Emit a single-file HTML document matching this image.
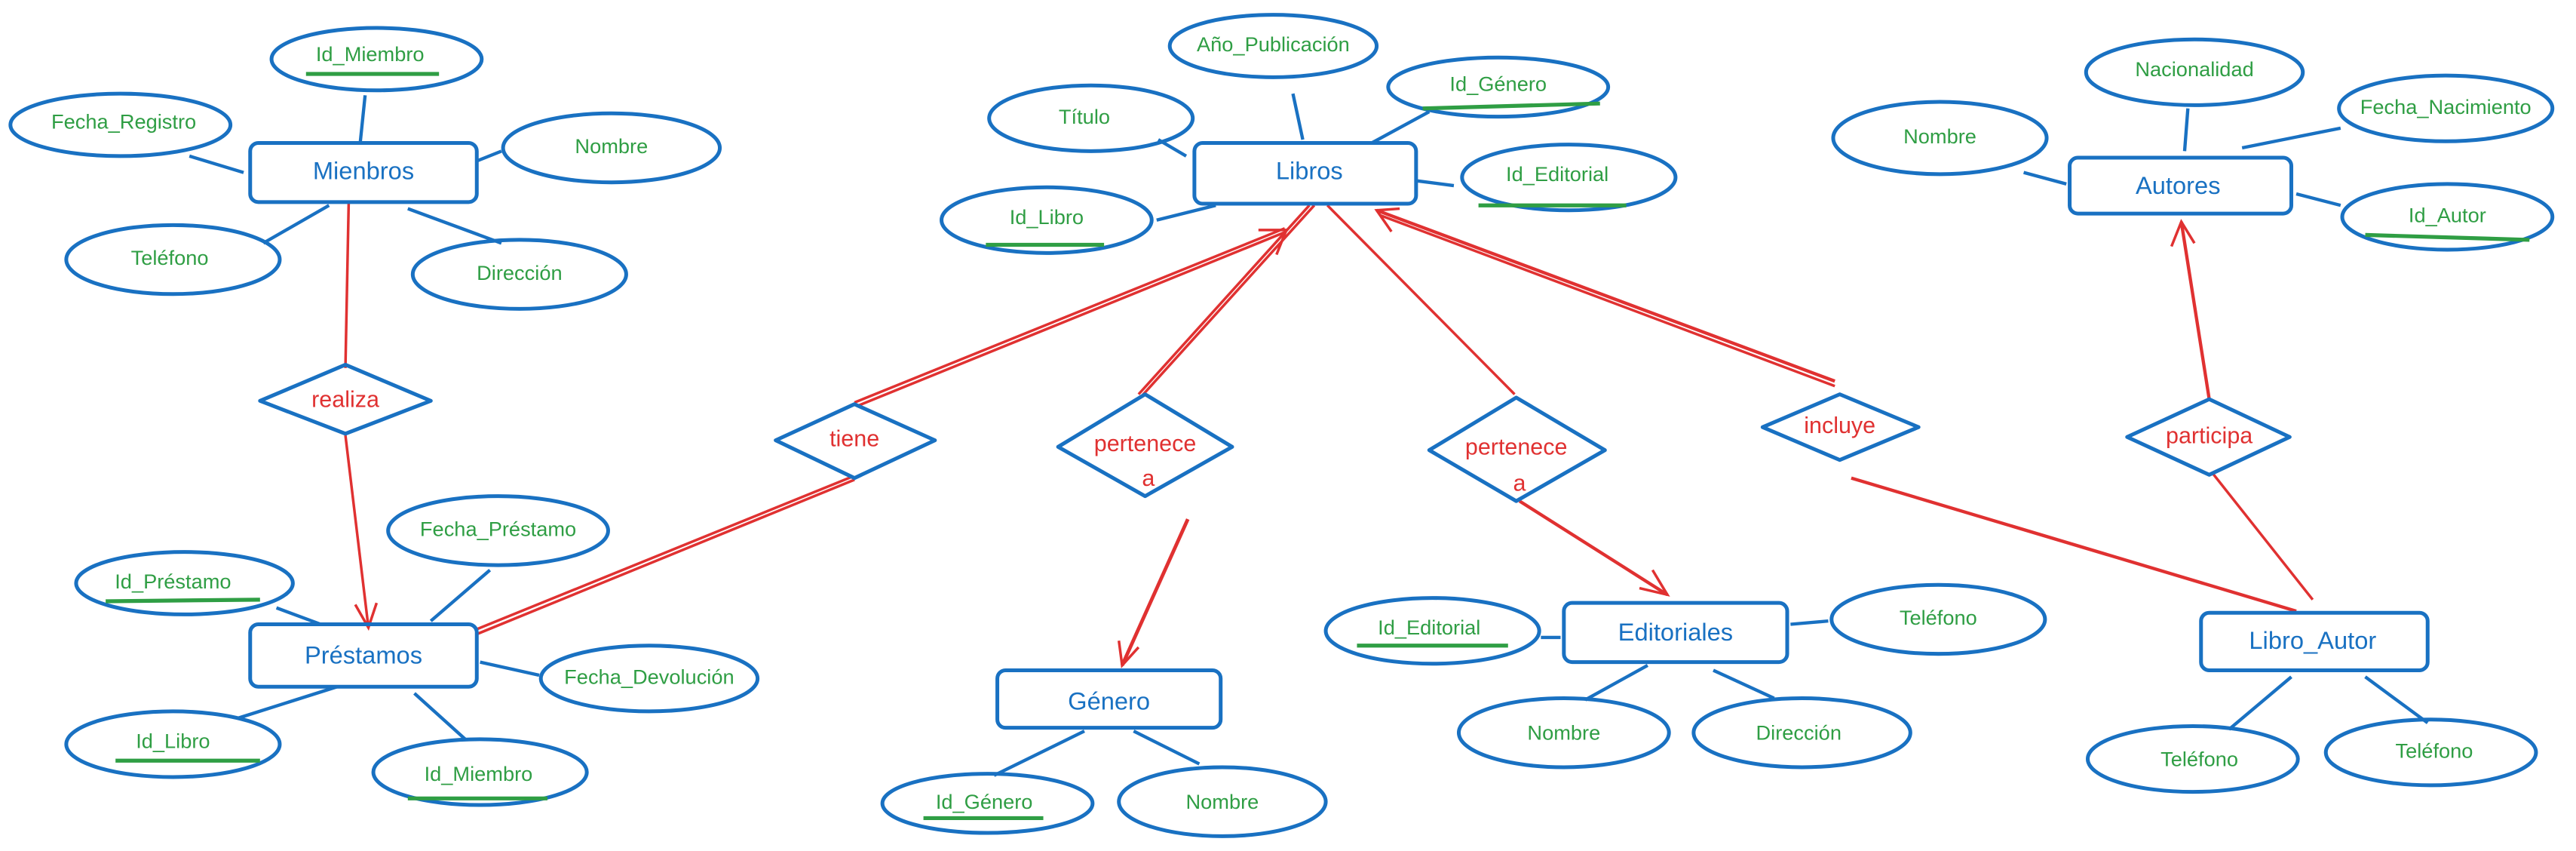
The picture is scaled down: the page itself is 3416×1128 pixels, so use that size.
<!DOCTYPE html>
<html><head><meta charset="utf-8"><style>
html,body{margin:0;padding:0;background:#fff;}
svg{display:block;}
text{font-family:"Liberation Sans",sans-serif;}
.e{fill:none;stroke:#1971c2;stroke-width:2.3;}
.l{stroke:#1971c2;stroke-width:2;fill:none;}
.r{stroke:#e03131;stroke-width:1.6;fill:none;}
.u{stroke:#2f9e44;stroke-width:2.4;}
.at{fill:#2f9e44;font-size:12.5px;text-anchor:middle;dominant-baseline:middle;}
.en{fill:#1971c2;font-size:15px;text-anchor:middle;dominant-baseline:middle;}
.rt{fill:#e03131;font-size:14px;text-anchor:middle;dominant-baseline:middle;}
</style></head><body>
<svg width="3416" height="1128" viewBox="0 0 1568 518" xmlns="http://www.w3.org/2000/svg">
<!-- connectors blue -->
<g class="l">
<line x1="222" y1="58" x2="219" y2="87"/><line x1="115" y1="95" x2="148" y2="105"/><line x1="290" y1="98" x2="305" y2="92"/>
<line x1="200" y1="125" x2="160" y2="148"/><line x1="248" y1="127" x2="305" y2="148"/>
<line x1="168" y1="370" x2="195" y2="380"/><line x1="298" y1="347" x2="262" y2="378"/><line x1="292" y1="403" x2="328" y2="411"/>
<line x1="145" y1="437" x2="205" y2="418"/><line x1="252" y1="422" x2="283" y2="450"/>
<line x1="787" y1="57" x2="793" y2="85"/><line x1="722" y1="95" x2="705" y2="85"/><line x1="835" y1="87" x2="870" y2="68"/>
<line x1="862" y1="110" x2="885" y2="113"/><line x1="704" y1="134" x2="740" y2="125"/>
<line x1="605" y1="472" x2="660" y2="445"/><line x1="730" y1="465" x2="690" y2="445"/>
<line x1="938" y1="388" x2="950" y2="388"/><line x1="1090" y1="380" x2="1113" y2="378"/><line x1="1003" y1="405" x2="965" y2="426"/><line x1="1043" y1="408" x2="1080" y2="425"/>
<line x1="1357" y1="444" x2="1395" y2="412"/><line x1="1440" y1="412" x2="1478" y2="440"/>
<line x1="1332" y1="66" x2="1330" y2="92"/><line x1="1232" y1="105" x2="1258" y2="112"/><line x1="1365" y1="90" x2="1425" y2="78"/><line x1="1398" y1="118" x2="1425" y2="125"/>
</g>
<!-- red connectors -->
<g class="r">
<line x1="212" y1="123" x2="210" y2="224"/>
<line x1="210" y1="265" x2="224" y2="382"/><polyline points="216,368 224,382 229,367"/>
<line x1="290" y1="383" x2="519" y2="290"/><line x1="290" y1="386" x2="520" y2="292"/>
<line x1="520" y1="245" x2="782" y2="139"/><line x1="522" y1="247" x2="783" y2="141"/><polyline points="766,140 783,140 777,155"/>
<line x1="797" y1="125" x2="693" y2="240"/><line x1="800" y1="125" x2="695" y2="241"/>
<line x1="723" y1="316" x2="683" y2="405" stroke-width="2.2"/><polyline points="681,390 683,405 693,394"/>
<line x1="808" y1="125" x2="922" y2="240"/>
<line x1="925" y1="305" x2="1015" y2="362" stroke-width="2"/><polyline points="998,358 1015,362 1006,347"/>
<line x1="1117" y1="232" x2="838" y2="128" stroke-width="2"/><line x1="1117" y1="235" x2="840" y2="131"/><polyline points="852,127 838,128 847,141"/>
<line x1="1127" y1="291" x2="1398" y2="372" stroke-width="2"/>
<line x1="1347" y1="288" x2="1408" y2="365"/>
<line x1="1345" y1="243" x2="1328" y2="135" stroke-width="2"/><polyline points="1322,150 1328,135 1336,148"/>
</g>
<!-- entities -->
<g class="e">
<rect x="152" y="87" width="138" height="36" rx="5"/>
<rect x="152" y="380" width="138" height="38" rx="5"/>
<rect x="727" y="87" width="135" height="37" rx="5"/>
<rect x="607" y="408" width="136" height="35" rx="5"/>
<rect x="952" y="367" width="136" height="36" rx="5"/>
<rect x="1340" y="373" width="138" height="35" rx="5"/>
<rect x="1260" y="96" width="135" height="34" rx="5"/>
<!-- diamonds -->
<polygon points="158,244 210,222 262,244 210,264" stroke-linejoin="round"/>
<polygon points="472,268 520,246 569,268 520,291" stroke-linejoin="round"/>
<polygon points="644,272 697,240 750,272 697,302" stroke-linejoin="round"/>
<polygon points="870,274 923,242 977,274 923,305" stroke-linejoin="round"/>
<polygon points="1073,260 1120,240 1168,260 1120,280" stroke-linejoin="round"/>
<polygon points="1295,266 1345,243 1394,266 1345,289" stroke-linejoin="round"/>
<!-- ellipses -->
<ellipse cx="229" cy="36" rx="64" ry="19"/><ellipse cx="73" cy="76" rx="67" ry="19"/><ellipse cx="372" cy="90" rx="66" ry="21"/>
<ellipse cx="105" cy="158" rx="65" ry="21"/><ellipse cx="316" cy="167" rx="65" ry="21"/>
<ellipse cx="303" cy="323" rx="67" ry="21"/><ellipse cx="112" cy="355" rx="66" ry="19"/><ellipse cx="395" cy="413" rx="66" ry="20"/>
<ellipse cx="105" cy="453" rx="65" ry="20"/><ellipse cx="292" cy="470" rx="65" ry="20"/>
<ellipse cx="775" cy="28" rx="63" ry="19"/><ellipse cx="664" cy="72" rx="62" ry="20"/><ellipse cx="912" cy="53" rx="67" ry="18"/>
<ellipse cx="955" cy="108" rx="65" ry="20"/><ellipse cx="637" cy="134" rx="64" ry="20"/>
<ellipse cx="601" cy="489" rx="64" ry="18"/><ellipse cx="744" cy="488" rx="63" ry="21"/>
<ellipse cx="872" cy="384" rx="65" ry="20"/><ellipse cx="1180" cy="377" rx="65" ry="21"/><ellipse cx="952" cy="446" rx="64" ry="21"/><ellipse cx="1097" cy="446" rx="66" ry="21"/>
<ellipse cx="1335" cy="462" rx="64" ry="20"/><ellipse cx="1480" cy="458" rx="64" ry="20"/>
<ellipse cx="1336" cy="44" rx="66" ry="20"/><ellipse cx="1181" cy="84" rx="65" ry="22"/><ellipse cx="1489" cy="66" rx="65" ry="20"/><ellipse cx="1490" cy="132" rx="64" ry="20"/>
</g>
<!-- underlines -->
<g class="u">
<line x1="186" y1="45" x2="267" y2="45"/><line x1="64" y1="366" x2="158" y2="365"/><line x1="70" y1="463" x2="158" y2="463"/><line x1="248" y1="486" x2="333" y2="486"/>
<line x1="866" y1="66" x2="974" y2="63"/><line x1="900" y1="125" x2="990" y2="125"/><line x1="600" y1="149" x2="672" y2="149"/>
<line x1="562" y1="498" x2="635" y2="498"/><line x1="826" y1="393" x2="918" y2="393"/><line x1="1440" y1="143" x2="1540" y2="146"/>
</g>
<!-- labels -->
<g class="en">
<text x="221" y="105">Mienbros</text><text x="221" y="400">Préstamos</text><text x="797" y="105">Libros</text>
<text x="675" y="428">Género</text><text x="1020" y="386">Editoriales</text><text x="1408" y="391">Libro_Autor</text><text x="1326" y="114">Autores</text>
</g>
<g class="rt">
<text x="210" y="244">realiza</text><text x="520" y="268">tiene</text>
<text x="697" y="271">pertenece</text><text x="699" y="292">a</text>
<text x="923" y="273">pertenece</text><text x="925" y="295">a</text>
<text x="1120" y="260">incluye</text><text x="1345" y="266">participa</text>
</g>
<g class="at">
<text x="225" y="34">Id_Miembro</text><text x="75" y="75">Fecha_Registro</text><text x="372" y="90">Nombre</text>
<text x="103" y="158">Teléfono</text><text x="316" y="167">Dirección</text>
<text x="303" y="323">Fecha_Préstamo</text><text x="105" y="355">Id_Préstamo</text><text x="395" y="413">Fecha_Devolución</text>
<text x="105" y="452">Id_Libro</text><text x="291" y="472">Id_Miembro</text>
<text x="775" y="28">Año_Publicación</text><text x="660" y="72">Título</text><text x="912" y="52">Id_Género</text>
<text x="948" y="107">Id_Editorial</text><text x="637" y="133">Id_Libro</text>
<text x="599" y="489">Id_Género</text><text x="744" y="489">Nombre</text>
<text x="870" y="383">Id_Editorial</text><text x="1180" y="377">Teléfono</text><text x="952" y="447">Nombre</text><text x="1095" y="447">Dirección</text>
<text x="1339" y="463">Teléfono</text><text x="1482" y="458">Teléfono</text>
<text x="1336" y="43">Nacionalidad</text><text x="1181" y="84">Nombre</text><text x="1489" y="66">Fecha_Nacimiento</text><text x="1490" y="132">Id_Autor</text>
</g>
</svg>
</body></html>
